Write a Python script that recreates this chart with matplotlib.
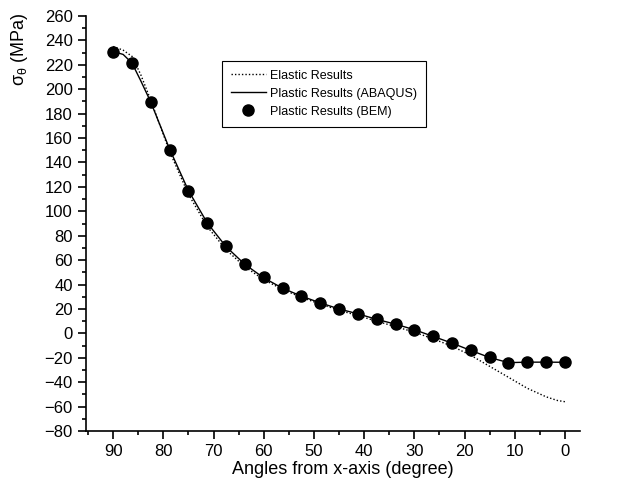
import matplotlib
matplotlib.use('Agg')
import matplotlib.pyplot as plt
from matplotlib.ticker import MultipleLocator

plt.rcParams['font.family'] = ['Liberation Sans', 'DejaVu Sans']
plt.rcParams['mathtext.default'] = 'regular'

# BEM sample angles (degree), 90 down to 0
angles = [90, 86.25, 82.5, 78.75, 75, 71.25, 67.5, 63.75, 60, 56.25, 52.5, 48.75,
          45, 41.25, 37.5, 33.75, 30, 26.25, 22.5, 18.75, 15, 11.25, 7.5, 3.75, 0]
bem = [230.5, 221.5, 189.6, 150.5, 117, 90.7, 71.2, 56.6, 45.9, 37.2, 30.9, 25.1,
       20.2, 15.9, 11.8, 7.7, 3.0, -2.5, -7.9, -13.9, -19.6, -24.3, -23.4, -23.6, -23.8]

# elastic curve (dotted)
el_angles = [90, 88, 86.25, 84.5, 82.5, 78.75, 75, 71.25, 67.5, 63.75, 60, 56.25, 52.5,
             48.75, 45, 41.25, 37.5, 33.75, 30, 26.25, 22.5, 18.75, 15, 11.25, 7.5,
             3.75, 1.5, 0]
elastic = [235, 232, 227, 212, 191, 149, 114, 87.5, 68.5, 54.5, 44, 36, 29.5,
           24, 19, 14.5, 10, 5.5, 1, -4.5, -10.5, -18, -27, -36, -45,
           -52, -55, -56]

# ABAQUS curve (solid)
ab_angles = [90, 88, 86.25, 84.5, 82.5, 78.75, 75, 71.25, 67.5, 63.75, 60, 56.25, 52.5,
             48.75, 45, 41.25, 37.5, 33.75, 30, 26.25, 22.5, 18.75, 15, 11.25, 7.5,
             3.75, 0]
abaqus = [231, 228.5, 221.5, 207, 189.5, 151, 117, 90.5, 71, 56.5, 45.5, 37, 30.5,
          25, 20, 16, 11.5, 7.5, 3, -2.5, -8, -14, -19.8, -24, -23.6, -23.6, -23.7]

fig = plt.figure(figsize=(6.33, 4.93), dpi=100)
ax = fig.add_axes([86 / 633, 1 - 431 / 493, (580 - 86) / 633, (431 - 16) / 493])

ax.plot(el_angles, elastic, color='black', lw=1.0, linestyle=(0, (1, 1.5)), label='Elastic Results')
ax.plot(ab_angles, abaqus, color='black', lw=1.0, label='Plastic Results (ABAQUS)')
ax.plot(angles, bem, 'o', color='black', markersize=8, label='Plastic Results (BEM)')

ax.set_xlim(95.4, -3)
ax.set_ylim(-80, 260)
ax.set_xticks(list(range(0, 91, 10)))
ax.xaxis.set_minor_locator(MultipleLocator(5))
ax.yaxis.set_major_locator(MultipleLocator(20))
ax.yaxis.set_minor_locator(MultipleLocator(10))

ax.spines['top'].set_visible(False)
ax.spines['right'].set_visible(False)
for s in ['left', 'bottom']:
    ax.spines[s].set_linewidth(1.2)
ax.tick_params(which='major', direction='out', length=6, width=1.2, labelsize=12)
ax.tick_params(which='minor', direction='out', length=3, width=1.2)

fig.text(343 / 633, 1 - 470 / 493, 'Angles from x-axis (degree)', fontsize=13,
         ha='center', va='center')
fig.text(20 / 633, 1 - 12 / 493, r'$\sigma_{\theta}$ (MPa)', fontsize=13,
         rotation=90, ha='center', va='top')

leg = ax.legend(loc='upper left', bbox_to_anchor=(222 / 633, 1 - 61 / 493),
                bbox_transform=fig.transFigure, fontsize=9, frameon=True,
                fancybox=False, edgecolor='black', framealpha=1,
                handlelength=2.8, handletextpad=0.35, labelspacing=0.48,
                borderpad=0.7, borderaxespad=0)
leg.get_frame().set_linewidth(0.8)

fig.savefig('out.png', dpi=100)
